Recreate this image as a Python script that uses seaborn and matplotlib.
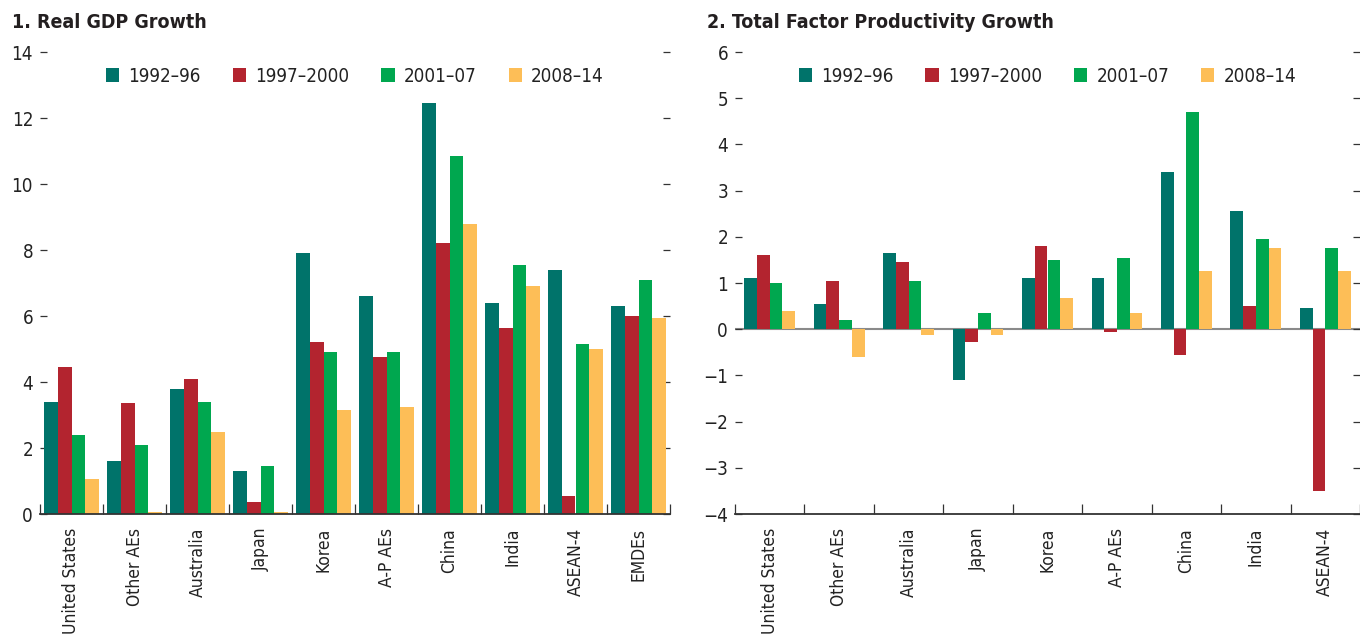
import pandas as pd
import matplotlib.pyplot as plt
import seaborn as sns
from matplotlib import font_manager as fm

# Data
periods = ["1992–96", "1997–2000", "2001–07", "2008–14"]
colors = ["#00736A", "#B3242F", "#00A74F", "#FDBE57"]

gdp_countries = ["United States", "Other AEs", "Australia", "Japan", "Korea",
                 "A-P AEs", "China", "India", "ASEAN-4", "EMDEs"]
gdp_1992_96 = [3.4, 1.6, 3.8, 1.3, 7.9, 6.6, 12.45, 6.4, 7.4, 6.3]
gdp_1997_2000 = [4.45, 3.35, 4.1, 0.35, 5.2, 4.75, 8.2, 5.65, 0.55, 6.0]
gdp_2001_07 = [2.4, 2.1, 3.4, 1.45, 4.9, 4.9, 10.85, 7.55, 5.15, 7.1]
gdp_2008_14 = [1.05, 0.05, 2.5, 0.05, 3.15, 3.25, 8.8, 6.9, 5.0, 5.95]

tfp_countries = ["United States", "Other AEs", "Australia", "Japan", "Korea",
                 "A-P AEs", "China", "India", "ASEAN-4"]
tfp_1992_96 = [1.1, 0.55, 1.65, -1.1, 1.1, 1.1, 3.4, 2.55, 0.45]
tfp_1997_2000 = [1.6, 1.05, 1.45, -0.28, 1.8, -0.06, -0.56, 0.5, -3.5]
tfp_2001_07 = [1.0, 0.2, 1.05, 0.35, 1.5, 1.55, 4.7, 1.95, 1.75]
tfp_2008_14 = [0.4, -0.6, -0.12, -0.12, 0.67, 0.35, 1.25, 1.75, 1.25]


def to_long(countries, series):
    rows = []
    for period, vals in zip(periods, series):
        for c, v in zip(countries, vals):
            rows.append({"Country": c, "Period": period, "Value": v})
    return pd.DataFrame(rows)


df_gdp = to_long(gdp_countries, [gdp_1992_96, gdp_1997_2000, gdp_2001_07, gdp_2008_14])
df_tfp = to_long(tfp_countries, [tfp_1992_96, tfp_1997_2000, tfp_2001_07, tfp_2008_14])

sns.set_style("white")

# the original uses a condensed face; take one if there is one
fs, xfs, title_fs = 12.5, 11.5, 13
plt.rcParams['font.family'] = ['Liberation Sans', 'DejaVu Sans']
names = {f.name for f in fm.fontManager.ttflist}
if "Liberation Sans Narrow" in names:
    plt.rcParams['font.family'] = ['Liberation Sans Narrow', 'DejaVu Sans']
    fs, xfs, title_fs = 15, 13.5, 16
elif any(f.name == "DejaVu Sans" and "Condensed" in f.fname for f in fm.fontManager.ttflist):
    plt.rcParams['font.family'] = ['DejaVu Sans']
    plt.rcParams['font.stretch'] = 'condensed'
    fs, xfs, title_fs = 13.5, 12.5, 14

fig = plt.figure(figsize=(13.6, 6.37), dpi=100)
ax1 = fig.add_axes([40 / 1360, 123 / 637, 630 / 1360, 462 / 637])
ax2 = fig.add_axes([735 / 1360, 123 / 637, 625 / 1360, 462 / 637])


def draw(ax, df, countries, width, ylim, yticks):
    sns.barplot(data=df, x="Country", y="Value", hue="Period", order=countries,
                hue_order=periods, palette=colors, width=width, saturation=1,
                linewidth=0, ax=ax)
    ax.set_xlim(-0.5, len(countries) - 0.5)
    ax.set_ylim(*ylim)
    ax.set_yticks(yticks)
    ax.set_xlabel("")
    ax.set_ylabel("")
    for s in ["left", "right", "top"]:
        ax.spines[s].set_visible(False)
    ax.spines["bottom"].set_color("#333333")
    ax.spines["bottom"].set_linewidth(1.3)
    ax.tick_params(axis="y", left=True, right=True, labelright=False,
                   direction="in", length=5, width=0.9, color="#333333",
                   pad=5, labelsize=fs, labelcolor="#222222")
    ax.tick_params(axis="x", which="major", bottom=True, length=0, pad=10,
                   labelsize=xfs, labelcolor="#222222", labelrotation=90)
    ax.set_xticks([i + 0.5 for i in range(-1, len(countries))], minor=True)
    ax.tick_params(axis="x", which="minor", bottom=True, direction="in",
                   length=7, width=0.9, color="#333333")
    for lbl in ax.get_xticklabels():
        lbl.set_va("top")
    ax.legend(ncol=4, loc="upper center", bbox_to_anchor=(0.5, 1.005),
              frameon=False, fontsize=fs, handlelength=0.7, handleheight=0.7,
              handletextpad=0.5, columnspacing=1.7, labelcolor="#222222")


draw(ax1, df_gdp, gdp_countries, 0.86, (0, 14), range(0, 15, 2))
draw(ax2, df_tfp, tfp_countries, 0.73, (-4, 6), range(-4, 7))
ax2.axhline(0, color="#8a8a8a", linewidth=1.5, zorder=0.5)

fig.text(12 / 1360, 1 - 22 / 637, "1. Real GDP Growth", fontsize=title_fs,
         fontweight="bold", va="center", color="#231f20")
fig.text(707 / 1360, 1 - 22 / 637, "2. Total Factor Productivity Growth",
         fontsize=title_fs, fontweight="bold", va="center", color="#231f20")

fig.savefig("out.png", dpi=100)
